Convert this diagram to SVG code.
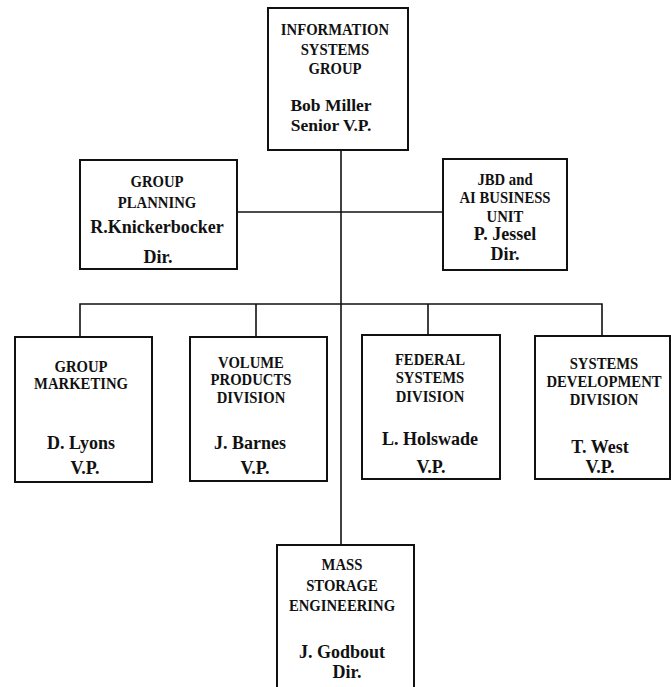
<svg xmlns="http://www.w3.org/2000/svg" width="671" height="687" viewBox="0 0 671 687">
<style>
.box{fill:#fff;stroke:#111;stroke-width:2}
.ln{fill:none;stroke:#111;stroke-width:1.6}
text{font-family:"Liberation Serif","Times New Roman",serif;font-weight:bold;fill:#111;text-anchor:middle}
.t{font-size:17.5px}
.n{font-size:18px}
</style>
<rect width="671" height="687" fill="#fff"/>
<g id="connectors">
<line class="ln" x1="341" y1="150" x2="341" y2="545"/>
<line class="ln" x1="237" y1="212" x2="443" y2="212"/>
<polyline class="ln" points="80,337 80,304 602,304 602,336"/>
<line class="ln" x1="256" y1="304" x2="256" y2="337"/>
<line class="ln" x1="428" y1="304" x2="428" y2="335"/>
</g>
<g id="isg">
<rect class="box" x="268" y="8" width="140" height="142"/>
<text class="t" transform="translate(335,35) scale(.84 1)">INFORMATION</text>
<text class="t" transform="translate(335,55) scale(.84 1)">SYSTEMS</text>
<text class="t" transform="translate(335,74) scale(.84 1)">GROUP</text>
<text class="n" x="331" y="111" style="font-size:17.5px">Bob Miller</text>
<text class="n" x="331" y="131" style="font-size:17.5px">Senior V.P.</text>
</g>
<g id="planning">
<rect class="box" x="80" y="160" width="157" height="109"/>
<text class="t" transform="translate(157,187) scale(.84 1)">GROUP</text>
<text class="t" transform="translate(157,208) scale(.84 1)">PLANNING</text>
<text class="n" x="157" y="233">R.Knickerbocker</text>
<text class="n" x="158" y="263">Dir.</text>
</g>
<g id="jbd">
<rect class="box" x="443" y="159" width="124" height="111"/>
<text class="t" transform="translate(505,185) scale(.84 1)">JBD and</text>
<text class="t" transform="translate(505,203) scale(.84 1)">AI BUSINESS</text>
<text class="t" transform="translate(505,222) scale(.84 1)">UNIT</text>
<text class="n" x="505" y="240">P. Jessel</text>
<text class="n" x="505" y="260">Dir.</text>
</g>
<g id="marketing">
<rect class="box" x="15" y="337" width="137" height="145"/>
<text class="t" transform="translate(81,372) scale(.84 1)">GROUP</text>
<text class="t" transform="translate(81,389) scale(.84 1)">MARKETING</text>
<text class="n" x="81" y="449">D. Lyons</text>
<text class="n" x="85" y="474">V.P.</text>
</g>
<g id="volume">
<rect class="box" x="190" y="337" width="137" height="144"/>
<text class="t" transform="translate(251,368) scale(.84 1)">VOLUME</text>
<text class="t" transform="translate(251,385) scale(.84 1)">PRODUCTS</text>
<text class="t" transform="translate(251,403) scale(.84 1)">DIVISION</text>
<text class="n" x="250" y="449">J. Barnes</text>
<text class="n" x="255" y="474">V.P.</text>
</g>
<g id="federal">
<rect class="box" x="362" y="335" width="138" height="144"/>
<text class="t" transform="translate(430,365) scale(.84 1)">FEDERAL</text>
<text class="t" transform="translate(430,383) scale(.84 1)">SYSTEMS</text>
<text class="t" transform="translate(430,402) scale(.84 1)">DIVISION</text>
<text class="n" x="430" y="445">L. Holswade</text>
<text class="n" x="431" y="473">V.P.</text>
</g>
<g id="sysdev">
<rect class="box" x="535" y="336" width="135" height="143"/>
<text class="t" transform="translate(604,369) scale(.84 1)">SYSTEMS</text>
<text class="t" transform="translate(604,387) scale(.84 1)">DEVELOPMENT</text>
<text class="t" transform="translate(604,405) scale(.84 1)">DIVISION</text>
<text class="n" x="600" y="453">T. West</text>
<text class="n" x="600" y="473">V.P.</text>
</g>
<g id="mass">
<rect class="box" x="277" y="545" width="137" height="150"/>
<text class="t" transform="translate(342,570) scale(.84 1)">MASS</text>
<text class="t" transform="translate(342,591) scale(.84 1)">STORAGE</text>
<text class="t" transform="translate(342,611) scale(.84 1)">ENGINEERING</text>
<text class="n" x="342" y="658">J. Godbout</text>
<text class="n" x="347" y="678">Dir.</text>
</g>
</svg>
